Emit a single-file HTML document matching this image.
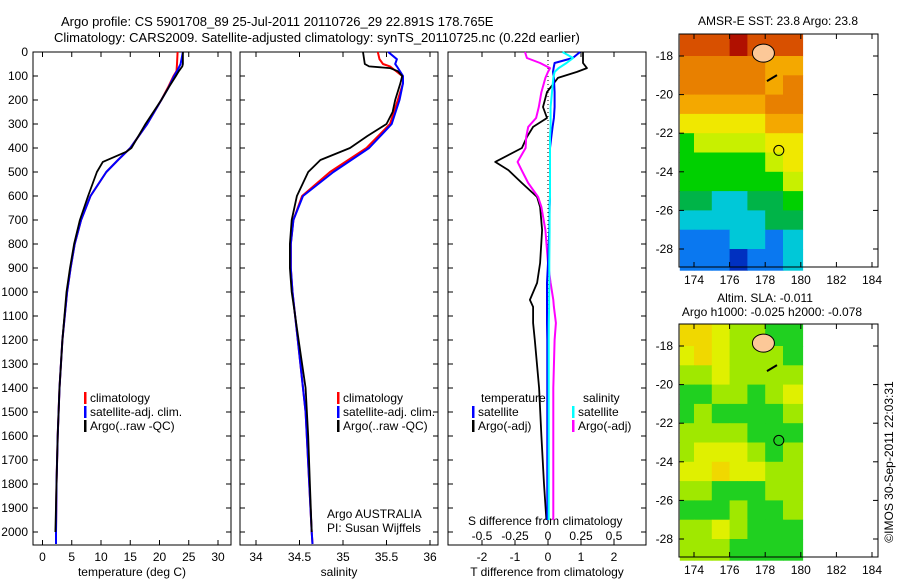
<!DOCTYPE html>
<html><head><meta charset="utf-8">
<style>
html,body{margin:0;padding:0;background:#fff;}
svg{display:block;font-family:"Liberation Sans",sans-serif;}
</style></head>
<body>
<svg id="fig" width="900" height="580" viewBox="0 0 900 580" xmlns="http://www.w3.org/2000/svg">
<text x="61" y="26" font-size="13">Argo profile: CS 5901708_89 25-Jul-2011 20110726_29 22.891S 178.765E</text>
<text x="54" y="42" font-size="13">Climatology: CARS2009. Satellite-adjusted climatology: synTS_20110725.nc (0.22d earlier)</text>
<text x="778" y="25" font-size="12" text-anchor="middle">AMSR-E SST: 23.8 Argo: 23.8</text>
<text x="765" y="302" font-size="12" text-anchor="middle">Altim. SLA: -0.011</text>
<text x="772" y="316" font-size="12" text-anchor="middle">Argo h1000: -0.025 h2000: -0.078</text>
<text transform="translate(893,462) rotate(-90)" font-size="12" text-anchor="middle">©IMOS 30-Sep-2011 22:03:31</text>
<g id="g"></g>
</svg>
<script>
// ---------- data ----------
var depthT = [0,50,60,80,100,150,200,300,400,416,458,500,600,700,800,900,1000,1200,1400,1600,1800,2000];
var argoT  = [24.0,24.0,23.9,23.3,22.8,21.5,20.3,17.6,15.2,14.3,10.3,9.3,7.8,6.4,5.4,4.7,4.1,3.4,2.9,2.6,2.4,2.2];
var climDepth = [0,50,80,100,150,200,300,400,450,500,600,700,800,900,1000,1200,1400,1600,1800,2000,2050];
var climT  = [23.1,23.0,22.9,22.4,21.4,20.3,17.9,15.0,12.9,10.9,8.2,6.6,5.5,4.8,4.2,3.4,2.9,2.6,2.4,2.3,2.3];
var satT   = [24.0,23.6,23.0,22.5,21.5,20.3,17.9,15.0,12.9,10.9,8.2,6.6,5.5,4.8,4.2,3.4,2.9,2.6,2.4,2.3,2.3];
var depthS = [0,50,60,67,80,100,130,200,250,300,350,400,450,500,600,700,800,900,1000,1100,1200,1300,1400,1600,1800,2000];
var argoS  = [35.23,35.25,35.3,35.54,35.63,35.68,35.66,35.6,35.57,35.5,35.28,35.08,34.74,34.6,34.47,34.41,34.39,34.39,34.41,34.45,34.49,34.53,34.57,34.6,34.62,34.64];
var climSDepth = [0,30,50,60,100,130,200,300,400,500,600,700,800,900,1000,1200,1500,2000,2050];
var climS  = [35.4,35.42,35.46,35.54,35.68,35.69,35.63,35.54,35.27,34.85,34.53,34.43,34.4,34.4,34.42,34.48,34.57,34.64,34.65];
var satS   = [35.52,35.62,35.6,35.62,35.69,35.69,35.65,35.56,35.3,34.89,34.54,34.43,34.4,34.4,34.42,34.48,34.57,34.64,34.65];
var diffDepth = [0,25,46,67,83,108,167,229,275,312,354,400,458,492,546,604,646,742,879,962,1033,1062,1129,1200,1400,1600,1800,1950];
var diffArgoT = [1.06,1.06,1.06,1.18,0.88,0.3,-0.03,-0.15,-0.03,-0.45,-0.64,-0.79,-1.6,-1.2,-0.79,-0.33,-0.24,-0.18,-0.24,-0.33,-0.55,-0.45,-0.45,-0.4,-0.27,-0.2,-0.12,-0.05];
var diffSatT  = [0.97,0.75,0.2,0.17,0.15,0.18,0.2,0.2,0.18,0.14,0.1,0.06,0.06,0.06,0.06,0.06,0.05,0.04,0.0,-0.03,-0.03,-0.03,-0.03,-0.02,-0.02,-0.02,-0.02,-0.02];
var diffArgoS = [-0.174,-0.16,-0.06,0.015,0.0,-0.02,-0.05,-0.07,-0.09,-0.15,-0.165,-0.17,-0.23,-0.2,-0.15,-0.075,-0.05,-0.02,0.0,0.02,0.04,0.045,0.06,0.05,0.04,0.04,0.04,0.04];
var diffSatS  = [0.11,0.19,0.14,0.08,0.05,0.04,0.03,0.02,0.02,0.02,0.015,0.015,0.015,0.015,0.015,0.015,0.012,0.012,0.01,0.01,0.008,0.008,0.006,0.005,0.005,0.005,0.005,0.005];
var depthTicks = [0,100,200,300,400,500,600,700,800,900,1000,1100,1200,1300,1400,1500,1600,1700,1800,1900,2000];
var tempTicks = [0,5,10,15,20,25,30];
var salTicks = [34,34.5,35,35.5,36];
var tdiffTicks = [-2,-1,0,1,2];
var sdiffTicks = [-0.5,-0.25,0,0.25,0.5];
var sdiffTickLabels = ["-0.5","-0.25","0","0.25","0.5"];
var lonTicks = [174,176,178,180,182,184];
var latTicks = [-18,-20,-22,-24,-26,-28];
var gridLon0 = [173.2,174,175,176,177,178,179];
var gridLon1 = [174,175,176,177,178,179,180.1];
var gridLat0 = [-16.85,-18,-19,-20,-21,-22,-23,-24,-25,-26,-27,-28];
var gridLat1 = [-18,-19,-20,-21,-22,-23,-24,-25,-26,-27,-28,-29.1];
var sstLevels = [
 [9,9,9,9.6,9,9,9],[8,8,8,8,8,7,7],[8,8,8,8,8,7,8],[7,7,7,7,7,8,8],
 [6,6,6,6,6,7,7],[4,5,5,5,5,6,6],[4,4,4,4,4,5,6],[4,4,4,4,4,4,5],
 [3,3,2,2,3,3,4],[2,2,2,2,2,3,3],[1,1,1,2,2,1,2],[0.5,0.5,0.5,0.3,0.5,1,1.5]];
var slaLevels = [
 [4,3.5,3,2,2,1,1],[3,3.5,3,2,2,2,1],[2,2,2.5,2,2,2,2],[1,1,2,2,1,2,2.5],
 [1,2,1,1,1,1,2],[2,2,2,2,1,0.5,1],[2,3,3,3,2,0.5,2],[3,3,3.5,3,3,2,2],
 [2,2,1,1,1,2,2],[1,1,1,2,1,1,2],[2,2,3,2,1,0.5,1],[2,2,2,1,1,1,1]];
var argoLon = 178.765, argoLat = -22.891;

// ---------- helpers ----------
var NS="http://www.w3.org/2000/svg", G=document.getElementById('g');
function mk(tag, attrs, name, inter){
  var e=document.createElementNS(NS,tag);
  for(var k in attrs) e.setAttribute(k,attrs[k]);
  
  
  G.appendChild(e); return e;
}
function txt(x,y,s,anchor,name,size){
  var e=mk('text',{x:x,y:y,'font-size':size||12,'text-anchor':anchor||'start'},name,false);
  e.textContent=s; return e;
}
var top0=52, bot0=545;
function yD(d){return 52+d*0.24;}
function panel(x0,x1,name){
  mk('rect',{x:x0,y:top0,width:x1-x0,height:bot0-top0,fill:'none',stroke:'#000','stroke-width':1},name,false);
}
function line(xs,ds,fx,color,w,name){
  var p='';
  for(var i=0;i<xs.length;i++) p+=(i?'L':'M')+fx(xs[i]).toFixed(1)+' '+yD(ds[i]).toFixed(1);
  mk('path',{d:p,fill:'none',stroke:color,'stroke-width':w,'stroke-linejoin':'round'},name,false);
}
function xT(t){return 42.5+t*5.85;}
function xS(s){return 256+(s-34)*87;}
function xdT(t){return 548+t*33;}
function xdS(s){return 548+s*132;}

panel(33,231,'temperature-panel');
panel(240,438,'salinity-panel');
panel(448,646,'difference-panel');
depthTicks.forEach(function(d){
  txt(28,yD(d)+4,String(d),'end','depth-tick-label');
  [[33,1],[231,-1],[240,1],[438,-1],[448,1],[646,-1]].forEach(function(a){
    mk('line',{x1:a[0],x2:a[0]+a[1]*5,y1:yD(d),y2:yD(d),stroke:'#000'},'depth-tick',false);
  });
});
tempTicks.forEach(function(t){
  var x=xT(t);
  mk('line',{x1:x,x2:x,y1:bot0,y2:bot0-5,stroke:'#000'},'temp-tick',false);
  mk('line',{x1:x,x2:x,y1:top0,y2:top0+5,stroke:'#000'},'temp-tick-top',false);
  txt(x,561,String(t),'middle','temp-tick-label');
});
txt(132,576,'temperature (deg C)','middle','temperature-axis-title');
line(climT,climDepth,xT,'#f00',2,'temp-climatology-line');
line(satT,climDepth,xT,'#00f',2,'temp-satellite-line');
line(argoT,depthT,xT,'#000',1.8,'temp-argo-line');

salTicks.forEach(function(s){
  var x=xS(s);
  mk('line',{x1:x,x2:x,y1:bot0,y2:bot0-5,stroke:'#000'},'sal-tick',false);
  mk('line',{x1:x,x2:x,y1:top0,y2:top0+5,stroke:'#000'},'sal-tick-top',false);
  txt(x,561,String(s),'middle','sal-tick-label');
});
txt(339,576,'salinity','middle','salinity-axis-title');
line(climS,climSDepth,xS,'#f00',2,'sal-climatology-line');
line(satS,climSDepth,xS,'#00f',2,'sal-satellite-line');
line(argoS,depthS,xS,'#000',1.8,'sal-argo-line');

tdiffTicks.forEach(function(t){
  var x=xdT(t);
  mk('line',{x1:x,x2:x,y1:bot0,y2:bot0-5,stroke:'#000'},'tdiff-tick',false);
  mk('line',{x1:x,x2:x,y1:top0,y2:top0+5,stroke:'#000'},'tdiff-tick-top',false);
  txt(x,561,String(t),'middle','tdiff-tick-label');
});
sdiffTicks.forEach(function(s,i){
  txt(xdS(s),540,sdiffTickLabels[i],'middle','sdiff-tick-label');
});
txt(468,525,'S difference from climatology','start','sdiff-axis-title');
txt(547,576,'T difference from climatology','middle','tdiff-axis-title');
mk('line',{x1:548,x2:548,y1:yD(0),y2:yD(1950),stroke:'#000','stroke-dasharray':'1,3'},'zero-line',false);
line(diffArgoT,diffDepth,xdT,'#000',1.8,'tdiff-argo-line');
line(diffArgoS,diffDepth,xdS,'#f0f',2,'sdiff-argo-line');
line(diffSatT,diffDepth,xdT,'#00f',2,'tdiff-satellite-line');
line(diffSatS,diffDepth,xdS,'#0ff',2,'sdiff-satellite-line');

function legItem(bx,y,color,label,name){
  mk('rect',{x:bx,y:y-10,width:2.5,height:12,fill:color},name+'-swatch',false);
  txt(bx+6,y,label,'start',name);
}
[[84,'#f00','climatology'],[84,'#00f','satellite-adj. clim.'],[84,'#000','Argo(..raw -QC)']].forEach(function(a,i){legItem(a[0],402+i*14,a[1],a[2],'temp-legend-entry');});
[[337,'#f00','climatology'],[337,'#00f','satellite-adj. clim.'],[337,'#000','Argo(..raw -QC)']].forEach(function(a,i){legItem(a[0],402+i*14,a[1],a[2],'sal-legend-entry');});
txt(481,402,'temperature','start','diff-legend-temperature-header');
txt(583,402,'salinity','start','diff-legend-salinity-header');
legItem(472,416,'#00f','satellite','diff-legend-tsat');
legItem(472,430,'#000','Argo(-adj)','diff-legend-targo');
legItem(572,416,'#0ff','satellite','diff-legend-ssat');
legItem(572,430,'#f0f','Argo(-adj)','diff-legend-sargo');
txt(327,518,'Argo AUSTRALIA','start','agency-label');
txt(327,532,'PI: Susan Wijffels','start','pi-label');

// ---------- maps ----------
var sstPal=['#0030c0','#0a78f0','#00c8d8','#00b448','#00d000','#c8f000','#f0e800','#f4a800','#e88000','#d85000','#b01000'];
var slaPal=['#00b83c','#20d020','#a0e800','#e0f000','#f0d800'];
function pal(p,v){var i=Math.max(0,Math.min(p.length-1,Math.round(v)));return p[i];}
function drawMap(top,levels,p,name){
  var L=679,R=878,B=top+233;
  function mx(lon){return 694+(lon-174)*17.8;}
  function my(lat){return top+22+(-18-lat)*19.3;}
  for(var r=0;r<levels.length;r++) for(var c=0;c<levels[r].length;c++){
    var x0=mx(gridLon0[c]),x1=mx(gridLon1[c]),y0=my(gridLat0[r]),y1=my(gridLat1[r]);
    mk('rect',{x:x0.toFixed(1),y:y0.toFixed(1),width:(x1-x0+0.5).toFixed(1),height:(y1-y0+0.5).toFixed(1),fill:pal(p,levels[r][c])},name+'-cell',false);
  }
  mk('ellipse',{cx:mx(177.9),cy:my(-17.85),rx:11,ry:9,fill:'#fcc898',stroke:'#000','stroke-width':1},name+'-fiji-island',false);
  mk('path',{d:'M'+mx(178.1)+' '+my(-19.3)+'l10 -6',stroke:'#000','stroke-width':2,fill:'none'},name+'-vanua-levu-coast',false);
  mk('circle',{cx:mx(argoLon),cy:my(argoLat),r:5,fill:'none',stroke:'#000'},name+'-argo-location',false);
  mk('rect',{x:L,y:top,width:R-L,height:B-top,fill:'none',stroke:'#000'},name+'-frame',false);
  latTicks.forEach(function(la){
    var y=my(la);
    mk('line',{x1:L,x2:L+5,y1:y,y2:y,stroke:'#000'},name+'-lat-tick',false);
    mk('line',{x1:R,x2:R-5,y1:y,y2:y,stroke:'#000'},name+'-lat-tick',false);
    txt(673,y+4,String(la),'end',name+'-lat-label');
  });
  lonTicks.forEach(function(lo){
    var x=mx(lo);
    mk('line',{x1:x,x2:x,y1:B,y2:B-5,stroke:'#000'},name+'-lon-tick',false);
    mk('line',{x1:x,x2:x,y1:top,y2:top+5,stroke:'#000'},name+'-lon-tick',false);
    txt(x,B+17,String(lo),'middle',name+'-lon-label');
  });
}
drawMap(34,sstLevels,sstPal,'sst-map');
drawMap(324,slaLevels,slaPal,'sla-map');
</script>
</body></html>
